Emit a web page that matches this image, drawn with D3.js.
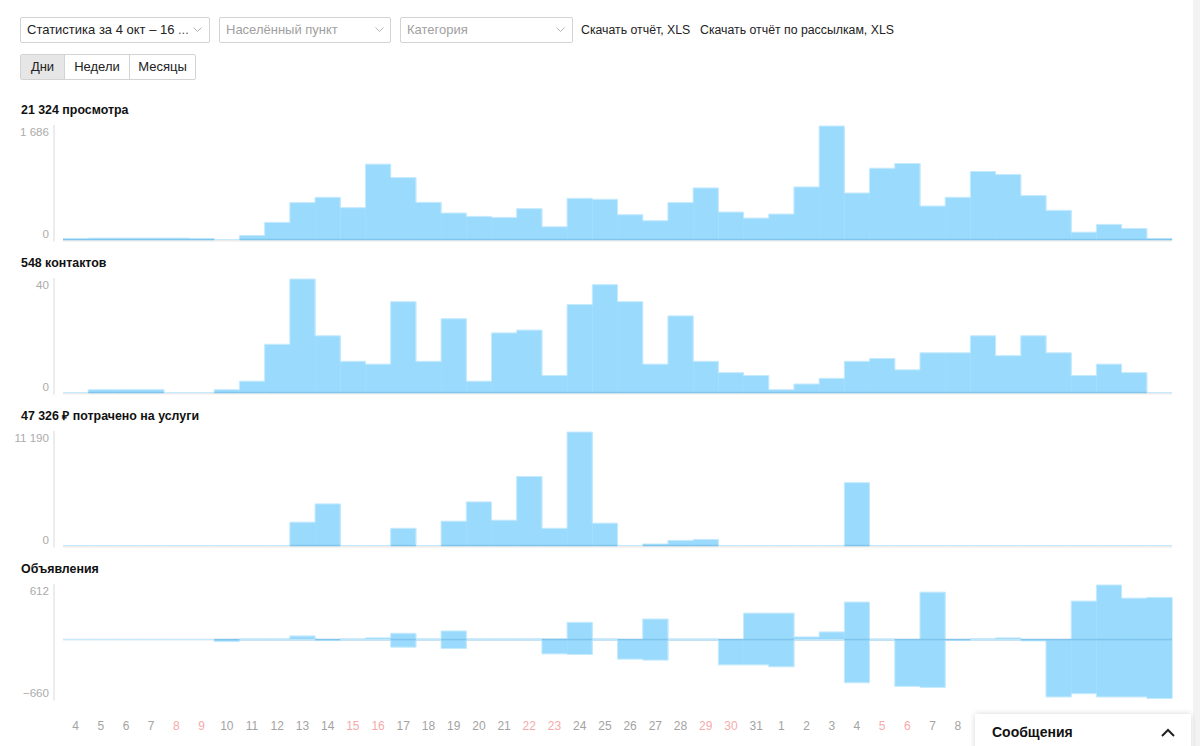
<!DOCTYPE html>
<html>
<head>
<meta charset="utf-8">
<script src="https://cdn.jsdelivr.net/npm/d3@7"></script>
<style>
    body {
        margin: 0;
        width: 1200px;
        height: 746px;
        overflow: hidden;
        position: relative;
        background: #fff;
        font-family: Arial, "Liberation Sans", sans-serif;
        color: #222;
    }
    .sel {
        position: absolute;
        top: 17px;
        height: 26px;
        box-sizing: border-box;
        border: 1px solid #d3d3d3;
        border-radius: 2px;
        font-size: 13px;
        line-height: 24px;
        padding-left: 6px;
        white-space: nowrap;
    }
    .sel.empty { color: #a0a0a0; }
    .sel svg { position: absolute; top: 9px; }
    .link {
        position: absolute;
        top: 17px;
        line-height: 26px;
        font-size: 12.3px;
        white-space: nowrap;
    }
    .btns {
        position: absolute;
        left: 20px;
        top: 54px;
        height: 26px;
        box-sizing: border-box;
        border: 1px solid #d3d3d3;
        border-radius: 2px;
        display: flex;
        font-size: 13px;
        line-height: 24px;
    }
    .btns div { text-align: center; box-sizing: border-box; }
    .btns div + div { border-left: 1px solid #d3d3d3; }
    .btns .on { background: #e6e6e6; }
    #msg {
        position: absolute;
        left: 975px;
        top: 714px;
        width: 216px;
        height: 44px;
        background: #fff;
        box-shadow: 0 0 6px rgba(0,0,0,0.16);
        font-size: 14px;
        font-weight: bold;
        color: #111;
    }
    #scroll {
        position: absolute;
        left: 1193px;
        top: 0;
        width: 7px;
        height: 746px;
        background: #f3f3f3;
    }
    svg.chart { position: absolute; left: 0; top: 0; }
</style>
</head>
<body>

<div class="sel" style="left:20px;width:190px;">Статистика за 4 окт – 16<span style="position:absolute;left:157px;color:#555">...</span>
    <svg width="9" height="6" style="left:172px"><polyline points="0.5,0.5 4.5,4.5 8.5,0.5" fill="none" stroke="#b5b5b5"/></svg></div>
<div class="sel empty" style="left:219px;width:172px;">Населённый пункт
    <svg width="9" height="6" style="left:155px"><polyline points="0.5,0.5 4.5,4.5 8.5,0.5" fill="none" stroke="#b5b5b5"/></svg></div>
<div class="sel empty" style="left:400px;width:173px;">Категория
    <svg width="9" height="6" style="left:155px"><polyline points="0.5,0.5 4.5,4.5 8.5,0.5" fill="none" stroke="#b5b5b5"/></svg></div>
<div class="link" style="left:581px;">Скачать отчёт, XLS</div>
<div class="link" style="left:700px;">Скачать отчёт по рассылкам, XLS</div>

<div class="btns">
    <div class="on" style="width:43px">Дни</div>
    <div style="width:65px">Недели</div>
    <div style="width:66px">Месяцы</div>
</div>

<div id="scroll"></div>

<script>
    // days 4 oct – 16 nov
    var dayLabels = ["4","5","6","7","8","9","10","11","12","13","14","15","16","17","18","19","20",
        "21","22","23","24","25","26","27","28","29","30","31",
        "1","2","3","4","5","6","7","8","9","10","11","12","13","14","15","16"];
    var weekendIdx = [4, 5, 11, 12, 18, 19, 25, 26, 32, 33, 39, 40];

    var titles = ["21 324 просмотра", "548 контактов", "47 326 ₽ потрачено на услуги", "Объявления"];

    var views = [10, 20, 20, 20, 20, 10, 0, 60, 254, 548, 627, 473, 1119, 920, 552, 393, 343,
        328, 458, 189, 612, 597, 368, 279, 548, 766, 408, 318,
        378, 781, 1686, 691, 1059, 1129, 497, 627, 1010, 965, 652, 433, 109, 224, 164, 12];

    var contacts = [0, 1, 1, 1, 0, 0, 1, 4, 17, 40, 20, 11, 10, 32, 11, 26, 4,
        21, 22, 6, 31, 38, 32, 10, 27, 11, 7, 6,
        1, 3, 5, 11, 12, 8, 14, 14, 20, 13, 20, 14, 6, 10, 7, 0];

    var spent = [0, 0, 0, 0, 0, 0, 0, 0, 0, 2300, 4100, 0, 0, 1700, 0, 2400, 4300,
        2500, 6800, 1700, 11190, 2200, 0, 150, 500, 600, 0, 0,
        0, 0, 0, 6200, 0, 0, 0, 0, 0, 0, 0, 0, 0, 0, 0, 0];

    var adsAdded = [0, 0, 0, 0, 0, 0, 0, 7, 7, 41, 0, 7, 19, 71, 7, 97, 7,
        7, 7, 5, 194, 7, 0, 231, 5, 5, 0, 297,
        297, 30, 86, 421, 5, 0, 532, 0, 8, 19, 0, 0, 432, 612, 465, 473];

    var adsRemoved = [0, 0, 0, 0, 0, 0, -22, 0, 0, 0, -11, 0, 0, -85, 0, -100, 0,
        0, 0, -160, -167, 0, -219, -230, 0, 0, -283, -283,
        -305, 0, 0, -484, 0, -524, -536, -5, 0, 0, -15, -643, -606, -643, -643, -660];

    var viewsTicks = [0, 1686];
    var contactsTicks = [0, 40];
    var spentTicks = [0, 11190];
    var adsTicks = [-660, 612];

    var ru = d3.formatLocale({decimal: ",", thousands: "\u00a0", grouping: [3], currency: ["", " ₽"], minus: "\u2212"});
    var fmt = ru.format(",d");

    var fill = "#9adbfd", edge = "#c6eafd", base = "#7fc5ec", grid = "#ececec";

    var svg = d3.select("body").append("svg")
        .attr("class", "chart")
        .attr("width", 1200)
        .attr("height", 746)
        .style("font-family", "Arial, 'Liberation Sans', sans-serif");

    var x = d3.scaleBand()
        .domain(d3.range(dayLabels.length))
        .range([63, 1172])
        .paddingInner(0)
        .paddingOuter(0);
    var bw = x.bandwidth();

    var charts = [
        {title: titles[0], top: 126, series: [views], ticks: viewsTicks},
        {title: titles[1], top: 279, series: [contacts], ticks: contactsTicks},
        {title: titles[2], top: 432, series: [spent], ticks: spentTicks},
        {title: titles[3], top: 585, series: [adsAdded, adsRemoved], ticks: adsTicks}
    ];

    charts.forEach(function (c) {
        var height = 113.5;
        var y = d3.scaleLinear()
            .domain(d3.extent(c.ticks))
            .range([c.top + height, c.top]);
        var zero = y(0);
        var g = svg.append("g");

        // title
        g.append("text")
            .attr("x", 21)
            .attr("y", c.top - 12)
            .style("font-size", "12.4px")
            .style("font-weight", "bold")
            .style("fill", "#111")
            .text(c.title);

        // light baseline
        var by = zero + (c.ticks[0] < 0 ? 0 : 1);
        g.append("line")
            .attr("x1", x.range()[0]).attr("x2", x.range()[1])
            .attr("y1", by).attr("y2", by)
            .style("stroke", grid)
            .style("stroke-width", 2);

        // y axis
        var ax = g.append("g")
            .attr("transform", "translate(54,0)")
            .call(d3.axisLeft(y).tickValues(c.ticks).tickFormat(fmt).tickSize(0).tickSizeOuter(0).tickPadding(5));
        ax.select(".domain")
            .attr("d", "M0," + (c.top - 1) + "V" + (c.top + height + 2))
            .style("stroke", grid)
            .style("stroke-width", 2);
        ax.selectAll("text")
            .style("font-size", "11.6px")
            .style("fill", "#ababab")
            .style("font-family", "Arial, 'Liberation Sans', sans-serif")
            .attr("dy", function (d) { return d === c.ticks[1] ? "0.85em" : "-0.2em"; });

        c.series.forEach(function (s) {
            var pts = s.map(function (d, i) { return {i: i, v: d}; }).filter(function (p) { return p.v !== 0; });

            // bars
            g.append("g")
                .selectAll("rect")
                .data(pts)
                .enter()
                .append("rect")
                .attr("x", function (p) { return x(p.i); })
                .attr("width", bw + 0.4)
                .attr("y", function (p) { return Math.min(y(p.v), zero); })
                .attr("height", function (p) { return Math.max(1, Math.abs(y(p.v) - zero)); })
                .style("fill", fill);

            // outline of the steps
            var line = d3.line().x(function (d) { return d[0]; }).y(function (d) { return d[1]; });
            var outline = [];
            s.forEach(function (d, i) {
                outline.push([x(i), y(d)]);
                outline.push([x(i) + bw, y(d)]);
            });
            g.append("path")
                .attr("d", line(outline))
                .style("fill", "none")
                .style("stroke", edge)
                .style("stroke-width", 1);

            // darker zero line under bars
            g.append("g")
                .selectAll("line")
                .data(pts)
                .enter()
                .append("line")
                .attr("x1", function (p) { return x(p.i); })
                .attr("x2", function (p) { return x(p.i) + bw; })
                .attr("y1", zero)
                .attr("y2", zero)
                .style("stroke", base)
                .style("stroke-width", 1.5);
        });
    });

    // x axis with day numbers
    var xa = svg.append("g")
        .attr("transform", "translate(0,720)")
        .call(d3.axisBottom(x).tickFormat(function (i) { return dayLabels[i]; }).tickSize(0).tickPadding(0));
    xa.select(".domain").remove();
    xa.selectAll("text")
        .attr("y", 0)
        .attr("dy", "0.8em")
        .style("font-size", "12px")
        .style("font-family", "Arial, 'Liberation Sans', sans-serif")
        .style("fill", function (i) { return weekendIdx.indexOf(i) >= 0 ? "#f6aaaa" : "#a3a3a3"; });
</script>

<div id="msg">
    <span style="position:absolute;left:17px;top:10px;">Сообщения</span>
    <svg width="14" height="9" style="position:absolute;left:186px;top:14px"><polyline points="1,8 7,2 13,8" fill="none" stroke="#222" stroke-width="2"/></svg>
</div>

</body>
</html>
